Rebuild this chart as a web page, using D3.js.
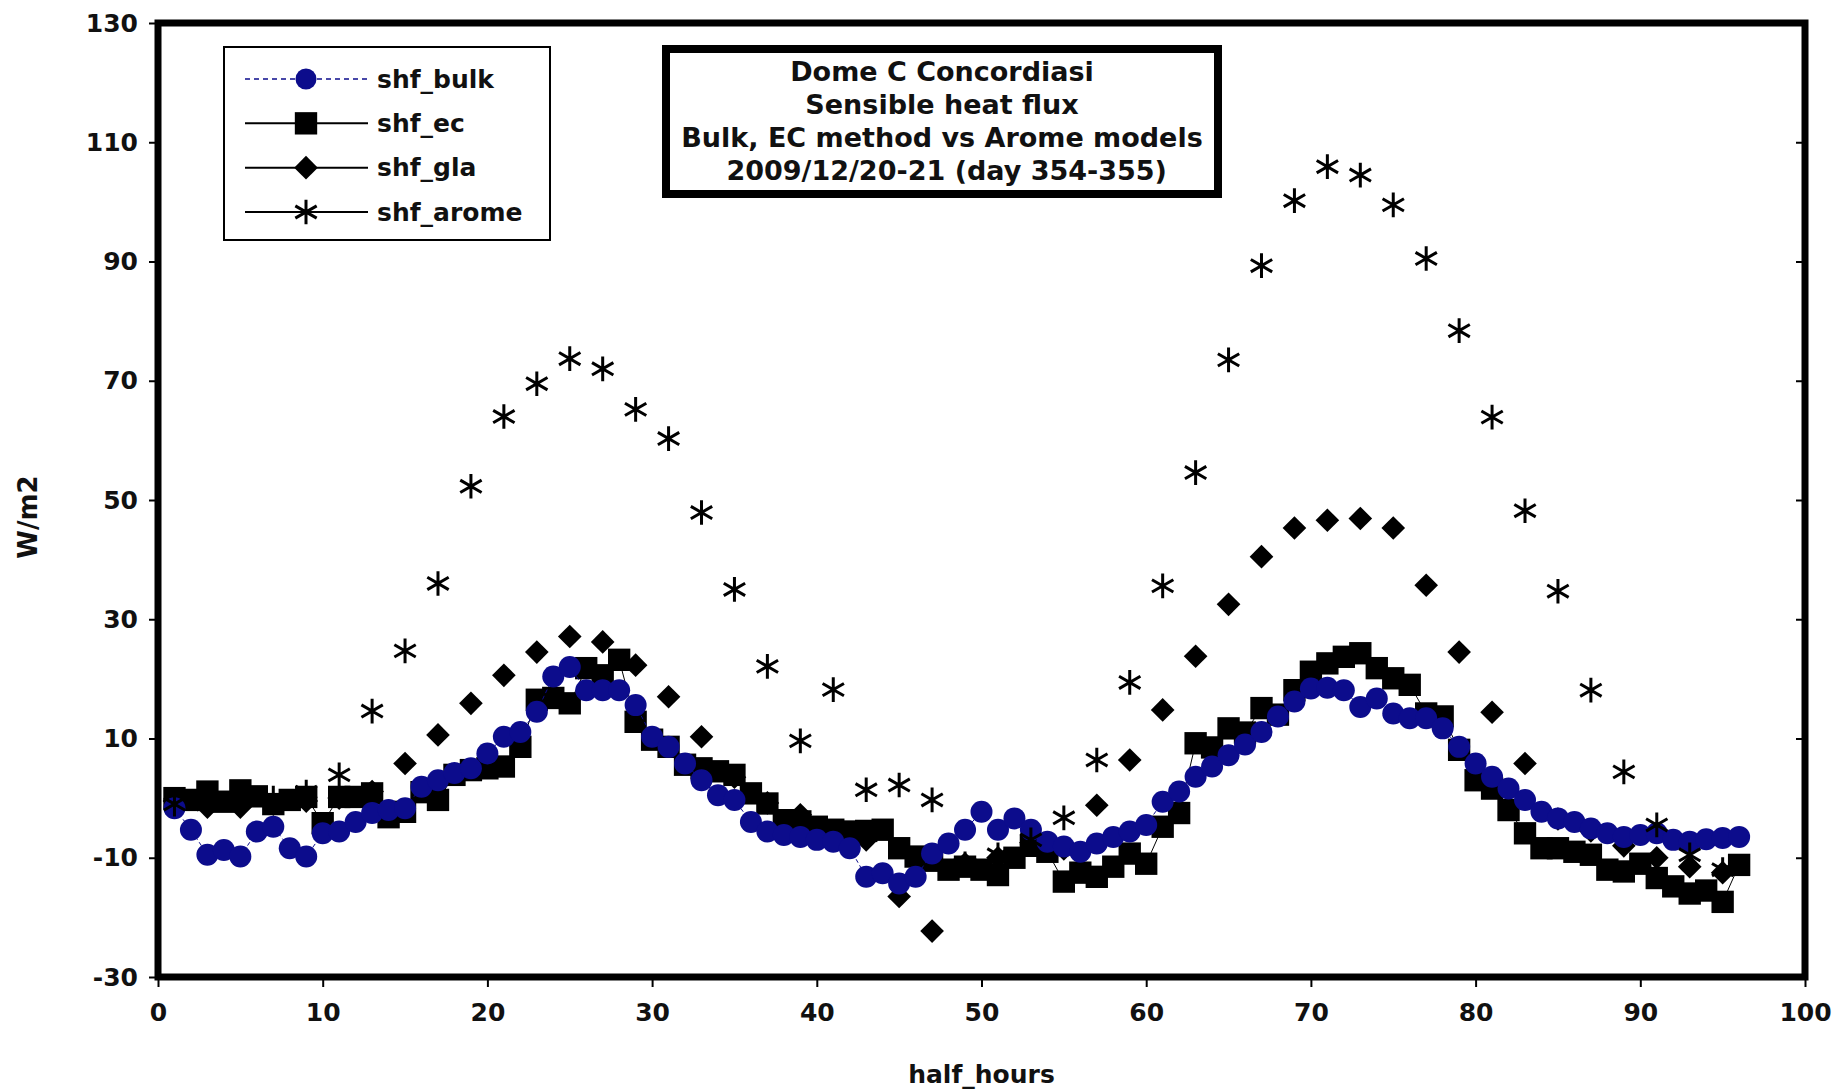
<!DOCTYPE html>
<html>
<head>
<meta charset="utf-8">
<script src="https://cdn.jsdelivr.net/npm/d3@7"></script>
<style>
    body { margin: 0; background: #fff; }
    text { font-family: "DejaVu Sans", sans-serif; font-weight: bold; fill: #111; }
</style>
</head>
<body>
<div id="chart"></div>
<script>
// Data (W/m2 per half hour)
const halfHours = d3.range(1, 97);          // bulk and ec: 1..96
const oddHours = d3.range(1, 97, 2);        // gla and arome: odd half hours only

const shfBulk = [
    -1.7, -5.3, -9.5, -8.7, -9.8, -5.6, -4.8, -8.4, -9.8, -5.9,
    -5.6, -4.0, -2.5, -2.0, -1.7, 1.9, 3.0, 4.2, 5.0, 7.5,
    10.3, 11.1, 14.5, 20.4, 22.0, 18.1, 18.1, 18.1, 15.6, 10.3,
    8.6, 5.8, 3.0, 0.5, -0.3, -4.0, -5.6, -6.2, -6.5, -7.0,
    -7.3, -8.4, -13.2, -12.6, -14.3, -13.2, -9.3, -7.6, -5.3, -2.3,
    -5.3, -3.4, -5.3, -7.3, -8.1, -9.0, -7.6, -6.5, -5.6, -4.5,
    -0.6, 1.1, 3.6, 5.3, 7.2, 9.0, 11.1, 13.7, 16.2, 18.4,
    18.5, 18.1, 15.3, 16.7, 14.2, 13.4, 13.4, 11.7, 8.6, 5.8,
    3.6, 1.6, -0.3, -2.3, -3.4, -4.0, -5.1, -5.9, -6.5, -6.2,
    -5.9, -7.0, -7.3, -6.9, -6.7, -6.5
];

const shfEc = [
    0.0, -0.3, 1.1, -0.6, 1.3, 0.3, -1.0, -0.3, 0.2, -4.2,
    0.2, 0.2, 0.8, -3.2, -2.3, 1.0, -0.3, 3.9, 4.7, 5.0,
    5.3, 8.6, 16.5, 16.8, 15.9, 21.8, 20.6, 23.2, 12.8, 9.8,
    8.6, 5.6, 5.0, 4.5, 3.9, 0.8, -0.9, -3.7, -3.9, -4.8,
    -5.3, -5.6, -5.5, -5.3, -8.4, -9.8, -10.5, -12.0, -11.5, -12.0,
    -12.9, -10.0, -8.0, -9.0, -14.0, -12.5, -13.2, -11.5, -9.3, -11.0,
    -4.8, -2.5, 9.2, 8.5, 11.7, 11.0, 15.1, 14.0, 18.1, 21.2,
    22.6, 23.7, 24.3, 21.8, 20.1, 19.0, 14.2, 13.7, 8.1, 3.0,
    1.6, -2.0, -5.9, -8.4, -8.4, -9.0, -9.5, -12.0, -12.3, -11.0,
    -13.4, -14.8, -16.0, -15.5, -17.4, -11.2
];

const shfGla = [
    -0.5, -1.5, -1.5, -1.0, -0.5, 0.0, 1.1, 5.8, 10.6, 15.9,
    20.6, 24.5, 27.1, 26.2, 22.3, 17.0, 10.3, 3.5, -0.8, -2.8,
    -5.5, -7.0, -16.5, -22.3, -11.0, -10.0, -7.5, -8.5, -1.2, 6.4,
    14.8, 23.8, 32.5, 40.5, 45.3, 46.6, 46.9, 45.3, 35.7, 24.5,
    14.4, 5.8, -3.5, -5.5, -8.0, -10.0, -11.5, -12.5
];

const shfArome = [
    -1.0, -1.0, -0.5, 0.0, 1.0, 3.9, 14.6, 24.7, 36.0, 52.3,
    64.0, 69.5, 73.7, 72.0, 65.2, 60.3, 47.9, 35.0, 22.1, 9.6,
    18.2, 1.4, 2.2, -0.3, -11.0, -9.5, -7.0, -3.3, 6.4, 19.4,
    35.6, 54.6, 73.5, 89.3, 100.2, 105.9, 104.5, 99.5, 90.5, 78.4,
    63.9, 48.2, 34.7, 18.1, 4.4, -4.5, -9.5, -12.0
];

const xTicks = d3.range(0, 101, 10);
const yTicks = d3.range(-30, 131, 20);

const seriesNames = ["shf_bulk", "shf_ec", "shf_gla", "shf_arome"];
const titleLines = [
    "Dome C Concordiasi",
    "Sensible heat flux",
    "Bulk, EC method vs Arome models",
    " 2009/12/20-21 (day 354-355)"
];

// Layout
const width = 1835, height = 1092;
const navy = "#0c0c8c";

const svg = d3.select("#chart")
    .append("svg")
    .attr("width", width)
    .attr("height", height);

svg.append("rect").attr("width", width).attr("height", height).attr("fill", "#fff");

const x = d3.scaleLinear().domain([0, 100]).range([158, 1805]);
const y = d3.scaleLinear().domain([-30, 130]).range([977, 23]);

// plain hyphen for negatives, like the original
const plainFmt = d => String(d);

// axes (ticks + labels), frame is drawn on top later
svg.append("g")
    .attr("transform", `translate(0,${y(-30)})`)
    .call(d3.axisBottom(x).tickValues(xTicks).tickFormat(plainFmt).tickSize(10).tickPadding(16));

svg.append("g")
    .attr("transform", `translate(${x(0)},0)`)
    .call(d3.axisLeft(y).tickValues(yTicks).tickFormat(plainFmt).tickSize(9).tickPadding(11));

// inward ticks on the right side
svg.append("g")
    .attr("transform", `translate(${x(100)},0)`)
    .call(d3.axisLeft(y).tickValues(yTicks).tickSize(9).tickFormat(""));

svg.selectAll(".domain").remove();
svg.selectAll(".tick line").attr("stroke", "#000").attr("stroke-width", 2);
svg.selectAll(".tick text")
    .attr("font-size", "25px")
    .attr("font-family", "DejaVu Sans")
    .attr("font-weight", "bold")
    .attr("fill", "#111");

// axis titles
svg.append("text")
    .attr("x", (x(0) + x(100)) / 2)
    .attr("y", 1083)
    .attr("text-anchor", "middle")
    .attr("font-size", "25px")
    .text("half_hours");

svg.append("text")
    .attr("transform", "translate(37,517) rotate(-90)")
    .attr("text-anchor", "middle")
    .attr("font-size", "26px")
    .text("W/m2");

// marker generators
const squareSym = d3.symbol(d3.symbolSquare, 500);
const diamondSym = d3.symbol(d3.symbolSquare, 280);
const starSym = d3.symbol(d3.symbolAsterisk, 430);

const plot = svg.append("g");

const bulkData = halfHours.map((h, i) => ({h, v: shfBulk[i]}));
const ecData = halfHours.map((h, i) => ({h, v: shfEc[i]}));
const glaData = oddHours.map((h, i) => ({h, v: shfGla[i]}));
const aromeData = oddHours.map((h, i) => ({h, v: shfArome[i]}));

const line = d3.line().x(d => x(d.h)).y(d => y(d.v));

// gla diamonds (below the others)
plot.append("g").selectAll("path")
    .data(glaData)
    .join("path")
    .attr("d", diamondSym)
    .attr("transform", d => `translate(${x(d.h)},${y(d.v)}) rotate(45)`)
    .attr("fill", "#000");

// ec: thin line + squares
plot.append("path")
    .datum(ecData)
    .attr("d", line)
    .attr("fill", "none")
    .attr("stroke", "#000")
    .attr("stroke-width", 1);

plot.append("g").selectAll("path")
    .data(ecData)
    .join("path")
    .attr("d", squareSym)
    .attr("transform", d => `translate(${x(d.h)},${y(d.v)})`)
    .attr("fill", "#000");

// bulk: dashed line + circles
plot.append("path")
    .datum(bulkData)
    .attr("d", line)
    .attr("fill", "none")
    .attr("stroke", navy)
    .attr("stroke-width", 1)
    .attr("stroke-dasharray", "4,3");

plot.append("g").selectAll("circle")
    .data(bulkData)
    .join("circle")
    .attr("cx", d => x(d.h))
    .attr("cy", d => y(d.v))
    .attr("r", 11)
    .attr("fill", navy);

// arome stars
plot.append("g").selectAll("path")
    .data(aromeData)
    .join("path")
    .attr("d", starSym)
    .attr("transform", d => `translate(${x(d.h)},${y(d.v)})`)
    .attr("fill", "none")
    .attr("stroke", "#000")
    .attr("stroke-width", 3);

// frame
svg.append("rect")
    .attr("x", x(0))
    .attr("y", y(130))
    .attr("width", x(100) - x(0))
    .attr("height", y(-30) - y(130))
    .attr("fill", "none")
    .attr("stroke", "#000")
    .attr("stroke-width", 7);

// legend
const legend = svg.append("g");
legend.append("rect")
    .attr("x", 224).attr("y", 47)
    .attr("width", 326).attr("height", 193)
    .attr("fill", "#fff")
    .attr("stroke", "#000")
    .attr("stroke-width", 2);

const legendY = d3.scalePoint().domain(seriesNames).range([79, 212]);

seriesNames.forEach((name, i) => {
    const ly = legendY(name);
    legend.append("line")
        .attr("x1", 245).attr("x2", 368)
        .attr("y1", ly).attr("y2", ly)
        .attr("stroke", i === 0 ? navy : "#000")
        .attr("stroke-width", i === 0 ? 1.5 : 2)
        .attr("stroke-dasharray", i === 0 ? "5,4" : null);

    const m = legend.append("g").attr("transform", `translate(306,${ly})`);
    if (i === 0) m.append("circle").attr("r", 10.5).attr("fill", navy);
    if (i === 1) m.append("path").attr("d", squareSym).attr("fill", "#000");
    if (i === 2) m.append("path").attr("d", diamondSym).attr("transform", "rotate(45)").attr("fill", "#000");
    if (i === 3) m.append("path").attr("d", starSym).attr("fill", "none").attr("stroke", "#000").attr("stroke-width", 3);

    legend.append("text")
        .attr("x", 377)
        .attr("y", ly)
        .attr("dy", "0.35em")
        .attr("font-size", "25px")
        .text(name);
});

// title box
const titleBox = svg.append("g");
titleBox.append("rect")
    .attr("x", 666).attr("y", 49)
    .attr("width", 552).attr("height", 145)
    .attr("fill", "#fff")
    .attr("stroke", "#000")
    .attr("stroke-width", 8);

titleBox.selectAll("text")
    .data(titleLines)
    .join("text")
    .attr("x", 942)
    .attr("y", (d, i) => 72 + i * 33)
    .attr("dy", "0.35em")
    .attr("text-anchor", "middle")
    .attr("font-size", "27px")
    .style("white-space", "pre")
    .text(d => d);
</script>
</body>
</html>
